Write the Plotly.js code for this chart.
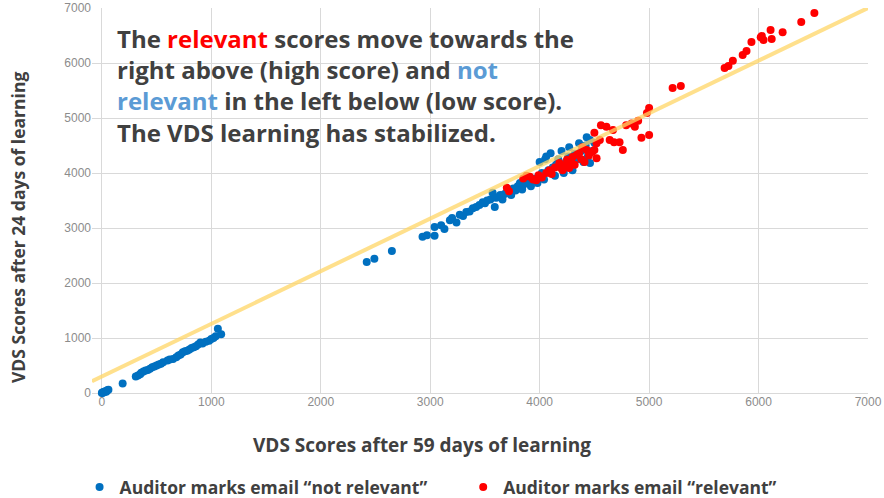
<!DOCTYPE html>
<html>
<head>
<meta charset="utf-8">
<script src="https://cdn.plot.ly/plotly-3.0.1.min.js"></script>
<style>html,body{margin:0;padding:0;background:#fff;}#chart{width:884px;height:498px;}</style>
</head>
<body>
<div id="chart"></div>
<script>
// Auditor marks email "not relevant" (blue)
const notRelevantX = [0,5,10,15,20,30,40,50,60,190,310,330,350,360,380,400,420,440,460,480,500,520,540,560,600,620,650,680,700,720,740,760,780,800,820,840,860,880,900,920,950,980,1000,1020,1040,1060,1090,
  2420,2490,2650,2930,2970,3040,3040,3100,3130,3180,3200,3240,3270,3300,3330,3360,3390,3420,3450,3480,3500,3520,3550,3570,3590,3600,3615,3640,3660,3680,3700,3720,3740,3760,3780,3800,3820,3840,3850,3870,3900,3920,3940,3960,3980,4000,4000,4020,4040,4050,4060,4080,4100,4100,4120,4140,4150,4170,4200,4200,4220,4240,4260,4270,4290,4300,4320,4340,4360,4380,4400,4420,4430,4440,4460,4460,4480,4500];
const notRelevantY = [0,10,5,20,15,30,25,50,60,175,300,320,340,370,390,410,420,440,470,480,500,520,530,560,590,610,620,650,680,700,740,760,770,790,820,830,850,880,920,900,930,950,980,1000,1030,1170,1070,
  2380,2440,2580,2840,2870,2860,3020,3050,2980,3140,3180,3100,3240,3220,3290,3300,3360,3380,3420,3470,3450,3500,3520,3640,3380,3550,3560,3600,3520,3620,3650,3700,3600,3720,3680,3760,3820,3700,3780,3830,3850,3760,3880,3900,3820,3950,4200,4000,3880,4250,4300,4050,4000,4360,4100,3950,4150,4250,4100,4400,4000,4200,4300,4470,4150,4050,4350,4250,4540,4400,4200,4500,4650,4300,4180,4600,4400,4550];
// Auditor marks email "relevant" (red)
const relevantX = [3700,3720,3850,3880,3910,3940,3970,3990,4020,4060,4090,4110,4140,4180,4200,4210,4240,4250,4270,4290,4300,4320,4340,4360,4380,4390,4410,4430,4450,4480,4500,4500,4520,4520,4550,4560,4610,4640,4670,4680,4730,4760,4790,4840,4870,4900,4930,5000,4980,5000,5215,5290,5690,5725,5765,5855,5890,5935,6020,6045,6030,6110,6120,6220,6390,6510];
const relevantY = [3730,3670,3900,3950,3930,3880,3870,3960,3920,4000,4050,3980,4100,4180,4080,4050,4150,4240,4090,4200,4290,4150,4330,4360,4250,4470,4200,4420,4320,4380,4420,4730,4540,4270,4600,4870,4840,4600,4780,4560,4560,4420,4870,4900,4840,4950,4640,4690,5090,5180,5545,5580,5910,5945,6040,6145,6220,6380,6470,6420,6490,6600,6435,6560,6745,6910];
// Trend line end points
const trendX = [-90, 7000];
const trendY = [214, 7000];
const tickVals = [0,1000,2000,3000,4000,5000,6000,7000];
const tickText = ['0','1000','2000','3000','4000','5000','6000','7000'];

const dark = '#404040';
const ff = '"Open Sans", "Noto Sans", sans-serif';
const legendFont = {family: ff, size: 17.5, color: dark};

const traces = [
  {x: notRelevantX, y: notRelevantY, type: 'scatter', mode: 'markers', cliponaxis: false,
   name: '<b>Auditor marks email \u201cnot relevant\u201d</b>', legend: 'legend',
   marker: {color: '#0070C0', size: 8}},
  {x: relevantX, y: relevantY, type: 'scatter', mode: 'markers', cliponaxis: false,
   name: '<b>Auditor marks email \u201crelevant\u201d</b>', legend: 'legend2',
   marker: {color: '#FF0000', size: 8}},
  {x: trendX, y: trendY, type: 'scatter', mode: 'lines', showlegend: false, hoverinfo: 'skip',
   line: {color: 'rgba(255,214,102,0.75)', width: 4}}
];

const layout = {
  width: 884, height: 498,
  margin: {l: 92, r: 16, t: 8, b: 105},
  paper_bgcolor: '#fff', plot_bgcolor: '#fff',
  font: {family: ff, color: dark},
  showlegend: true,
  legend: {orientation: 'h', xref: 'container', yref: 'container', x: 0.090, y: 0.022,
           xanchor: 'left', yanchor: 'middle', itemwidth: 30,
           font: legendFont, bgcolor: 'rgba(0,0,0,0)'},
  legend2: {orientation: 'h', xref: 'container', yref: 'container', x: 0.524, y: 0.022,
           xanchor: 'left', yanchor: 'middle', itemwidth: 30,
           font: legendFont, bgcolor: 'rgba(0,0,0,0)'},
  xaxis: {range: [-90, 7000], tickvals: tickVals, ticktext: tickText, showgrid: true, gridcolor: '#d9d9d9',
          zeroline: true, zerolinecolor: '#d9d9d9', zerolinewidth: 1, showline: false, ticks: '',
          tickfont: {family: '"Liberation Sans", Arial, sans-serif', size: 12, color: '#8c8c8c'}, fixedrange: true},
  yaxis: {range: [0, 7000], tickvals: tickVals, ticktext: tickText, showgrid: true, gridcolor: '#d9d9d9',
          zeroline: true, zerolinecolor: '#d9d9d9', zerolinewidth: 1, showline: false, ticks: '',
          tickfont: {family: '"Liberation Sans", Arial, sans-serif', size: 12, color: '#8c8c8c'}, fixedrange: true},
  annotations: [
    {xref: 'paper', yref: 'paper', x: 0.03, y: 0.97, xanchor: 'left', yanchor: 'top', align: 'left', showarrow: false,
     font: {family: ff, size: 24, color: dark},
     text: '<b>The <span style="color:#FF0000">relevant</span> scores move towards the<br>right above (high score) and <span style="color:#5B9BD5">not</span><br><span style="color:#5B9BD5">relevant</span> in the left below (low score).<br>The VDS learning has stabilized.</b>'},
    {xref: 'paper', yref: 'paper', x: (422-92)/776, y: (498-445-105)/385, xanchor: 'center', yanchor: 'middle', showarrow: false,
     font: {family: ff, size: 19, color: dark}, text: '<b>VDS Scores after 59 days of learning</b>'},
    {xref: 'paper', yref: 'paper', x: (18-92)/776, y: (498-228-105)/385, xanchor: 'center', yanchor: 'middle', showarrow: false, textangle: -90,
     font: {family: ff, size: 17.5, color: dark}, text: '<b>VDS Scores after 24 days of learning</b>'}
  ]
};

Plotly.newPlot('chart', traces, layout, {displayModeBar: false, staticPlot: true});
</script>
</body>
</html>
